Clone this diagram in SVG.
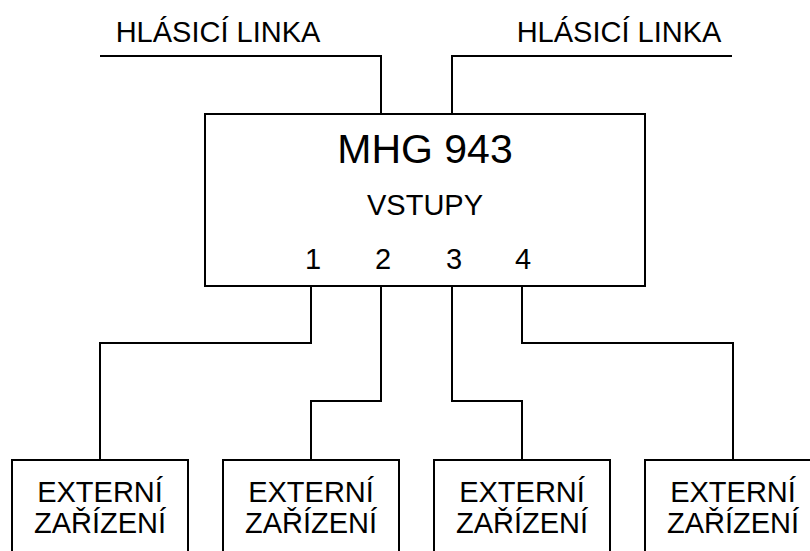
<svg xmlns="http://www.w3.org/2000/svg" width="810" height="551" viewBox="0 0 810 551">
<style>
.b{fill:#fff;stroke:#000;stroke-width:2}
.w{fill:none;stroke:#000;stroke-width:2}
text{font-family:"Liberation Sans",Arial,sans-serif;fill:#000;text-anchor:middle;font-size:29px}
.big{font-size:41px}
</style>
<rect width="810" height="551" fill="#fff"/>
<g id="connectors">
<polyline class="w" points="100,56 381,56 381,114"/>
<polyline class="w" points="732,56 452,56 452,114"/>
<polyline class="w" points="311,286 311,343 100,343 100,460"/>
<polyline class="w" points="381,286 381,401 311,401 311,460"/>
<polyline class="w" points="452,286 452,401 522,401 522,460"/>
<polyline class="w" points="522,286 522,343 733,343 733,460"/>
</g>
<g id="label-left"><text x="218" y="42">HLÁSICÍ LINKA</text></g>
<g id="label-right"><text x="619" y="42">HLÁSICÍ LINKA</text></g>
<g id="mhg">
<rect class="b" x="205" y="114" width="440" height="172"/>
<text class="big" x="425" y="163">MHG 943</text>
<text x="425" y="215">VSTUPY</text>
<text x="313" y="269">1</text>
<text x="383" y="269">2</text>
<text x="454" y="269">3</text>
<text x="523" y="269">4</text>
</g>
<g id="ext1">
<rect class="b" x="12" y="460" width="176" height="110"/>
<text x="100" y="502">EXTERNÍ</text>
<text x="100" y="533">ZAŘÍZENÍ</text>
</g>
<g id="ext2">
<rect class="b" x="223" y="460" width="176" height="110"/>
<text x="311" y="502">EXTERNÍ</text>
<text x="311" y="533">ZAŘÍZENÍ</text>
</g>
<g id="ext3">
<rect class="b" x="434" y="460" width="176" height="110"/>
<text x="522" y="502">EXTERNÍ</text>
<text x="522" y="533">ZAŘÍZENÍ</text>
</g>
<g id="ext4">
<rect class="b" x="645" y="460" width="176" height="110"/>
<text x="733" y="502">EXTERNÍ</text>
<text x="733" y="533">ZAŘÍZENÍ</text>
</g>
</svg>
